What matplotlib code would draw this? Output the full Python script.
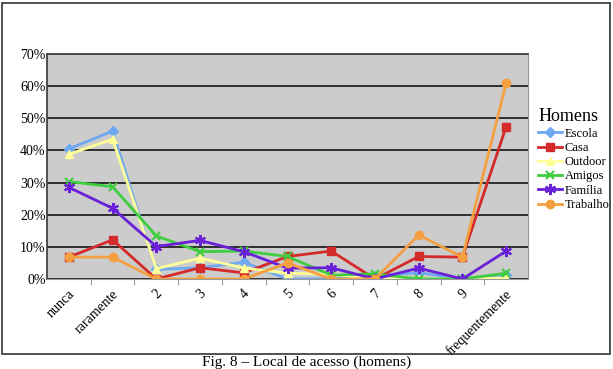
import matplotlib
matplotlib.use('Agg')
import matplotlib.pyplot as plt
from matplotlib.patches import Rectangle
from matplotlib.ticker import FuncFormatter, FixedLocator
from matplotlib.transforms import ScaledTranslation

plt.rcParams['font.family'] = ['Liberation Serif', 'DejaVu Serif']

categorias = ['nunca', 'raramente', '2', '3', '4', '5', '6', '7', '8', '9', 'frequentemente']
escola   = [40.5, 46.0, 3.0, 3.5, 5.2, 0.0, 0.0, 1.0, 2.0, 0.0, 1.2]
casa     = [6.8, 12.2, 0.0, 3.5, 1.9, 7.0, 8.7, 0.0, 7.0, 6.8, 47.4]
outdoor  = [38.8, 43.5, 3.2, 6.5, 3.4, 1.8, 1.5, 0.0, 0.0, 0.0, 0.3]
amigos   = [30.3, 28.7, 13.4, 8.5, 8.7, 7.0, 1.2, 1.6, 0.0, 0.0, 1.8]
familia  = [28.5, 22.0, 10.1, 12.0, 8.5, 3.4, 3.5, 0.0, 3.4, 0.0, 8.7]
trabalho = [6.8, 6.8, 0.0, 0.0, 0.0, 5.0, 0.0, 0.0, 13.7, 6.8, 61.0]

series = [
    ('Escola', escola, '#6FA8F0', 'D', 5),
    ('Casa', casa, '#D42A2A', 's', 6),
    ('Outdoor', outdoor, '#FFFF99', '^', 6),
    ('Amigos', amigos, '#3FCC3F', 'x', 6),
    ('Família', familia, '#6A1FD8', (6, 2, 0), 8),
    ('Trabalho', trabalho, '#F5A040', 'o', 6),
]

fig = plt.figure(figsize=(6.13, 3.69), dpi=100)
ax = fig.add_axes([0.0767, 0.2439, 0.7847, 0.6098])
ax.set_facecolor('#CCCCCC')

x = list(range(len(categorias)))
for nome, vals, cor, mk, ms in series:
    ax.plot(x, vals, color=cor, marker=mk, markersize=ms, linewidth=2,
            markeredgewidth=1.5 if mk in ('x', (6, 2, 0)) else 1,
            markeredgecolor=cor, label=nome)

ax.set_xlim(-0.5, len(categorias) - 0.5)
ax.set_ylim(0, 70)
ax.set_yticks(range(0, 71, 10))
ax.yaxis.set_major_formatter(FuncFormatter(lambda v, p: f'{int(v)}%'))
ax.yaxis.grid(True, color='#222222', linewidth=1.3)
ax.set_axisbelow(True)
ax.tick_params(axis='y', length=0, pad=1, labelsize=10)

ax.set_xticks(x)
ax.set_xticklabels(categorias, rotation=45, ha='right', rotation_mode='anchor', fontsize=10)
ax.tick_params(axis='x', which='major', length=0, pad=6)
shift = ScaledTranslation(-1 / 100, 0, fig.dpi_scale_trans)
for lbl in ax.get_xticklabels():
    lbl.set_transform(lbl.get_transform() + shift)
ax.xaxis.set_minor_locator(FixedLocator([i + 0.5 for i in x[:-1]]))
ax.tick_params(axis='x', which='minor', length=4, color='#888888')

for s in ['top', 'left']:
    ax.spines[s].set_color('#444444')
    ax.spines[s].set_linewidth(1.3)
for s in ['right', 'bottom']:
    ax.spines[s].set_color('#999999')

leg = ax.legend(title='Homens', loc='center left', bbox_to_anchor=(1.0, 0.53),
                frameon=False, fontsize=9, handlelength=1.9, labelspacing=0.18,
                borderaxespad=0.4, handletextpad=0.25)
leg.get_title().set_fontsize(13)
leg._legend_box.align = 'left'

fig.patches.append(Rectangle((0.004, 0.041), 0.991, 0.951, transform=fig.transFigure,
                             fill=False, edgecolor='#333333', linewidth=1.2))
fig.text(0.5, 0.036, 'Fig. 8 – Local de acesso (homens)', ha='center', va='top', fontsize=11)

fig.savefig('out.png', dpi=100)
